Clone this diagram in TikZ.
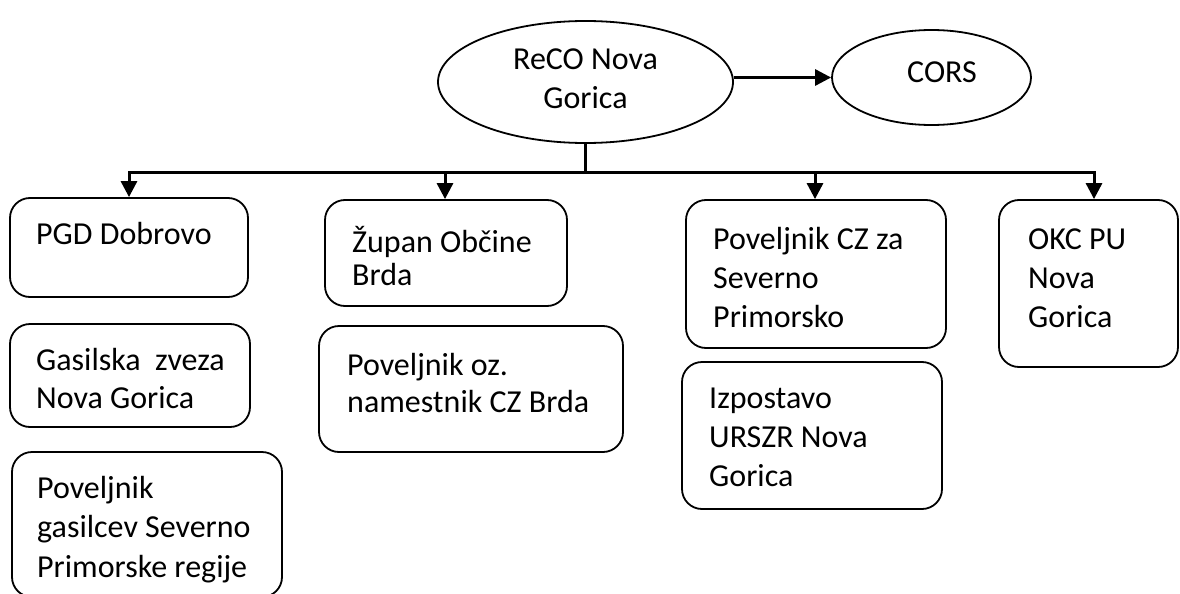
\documentclass[tikz,border=0pt]{standalone}
\usepackage{fontspec}
\setmainfont{Carlito}
\usetikzlibrary{arrows.meta,shapes.geometric}
\newcommand\vl[2]{\vtop{\fontsize{32}{#1}\selectfont\lineskiplimit=-100pt\lineskip=0pt #2}}
\newcommand\vc[2]{\vtop{\fontsize{32}{#1}\selectfont\lineskiplimit=-100pt\lineskip=0pt\halign{\hfil##\hfil\cr #2}}}
\tikzset{
  box/.style={draw, line width=1.8pt, rounded corners=20pt, inner sep=0pt},
  ell/.style={draw, ellipse, line width=1.8pt, inner sep=0pt},
  txt/.style={inner sep=0pt, font=\fontsize{32}{39}\selectfont},
  conn/.style={line width=3pt},
  arr/.style={line width=3pt, -{Triangle[length=16pt,width=16pt]}},
}
\begin{document}
\begin{tikzpicture}[x=1pt,y=-1pt]
\useasboundingbox (0,0) rectangle (1180,594);
% ellipses
\node[ell, minimum width=295pt, minimum height=122pt] (reco) at (585.5,82) {};
\node[ell, minimum width=199pt, minimum height=95pt] (cors) at (931.5,77.5) {};
\node[txt, anchor=base] (recot) at (585.5,70) {\vc{39}{ReCO Nova\cr Gorica\cr}};
\node[txt, anchor=base] (corst) at (942,82) {CORS};
% boxes
\node[box, minimum width=238pt, minimum height=99pt] (pgd) at (129,247.5) {};
\node[box, minimum width=240pt, minimum height=103pt] (gas) at (130,375.5) {};
\node[box, minimum width=270pt, minimum height=145pt] (povg) at (147,524.5) {};
\node[box, minimum width=242pt, minimum height=106pt] (zup) at (446,253) {};
\node[box, minimum width=304pt, minimum height=126pt] (povoz) at (471,389) {};
\node[box, minimum width=260pt, minimum height=148pt] (povcz) at (816,274) {};
\node[box, minimum width=260pt, minimum height=147pt] (izp) at (812,435.5) {};
\node[box, minimum width=179pt, minimum height=167pt] (okc) at (1088.5,283.5) {};
% texts
\node[txt, anchor=base west] (pgdt) at (36,244) {\vl{39}{\hbox{PGD Dobrovo}}};
\node[txt, anchor=base west] (gast) at (36,370) {\vl{38}{\hbox{Gasilska~ zveza}\hbox{Nova Gorica}}};
\node[txt, anchor=base west] (povgt) at (37,498) {\vl{39.5}{\hbox{Poveljnik}\hbox{gasilcev Severno}\hbox{Primorske regije}}};
\node[txt, anchor=base west] (zupt) at (352,252) {\vl{33}{\hbox{Župan Občine}\hbox{Brda}}};
\node[txt, anchor=base west] (povozt) at (347,375) {\vl{37}{\hbox{Poveljnik oz.}\hbox{namestnik CZ Brda}}};
\node[txt, anchor=base west] (povczt) at (713,249) {\vl{39}{\hbox{Poveljnik CZ za}\hbox{Severno}\hbox{Primorsko}}};
\node[txt, anchor=base west] (izpt) at (709,408) {\vl{39}{\hbox{Izpostavo}\hbox{URSZR Nova}\hbox{Gorica}}};
\node[txt, anchor=base west] (okct) at (1028,249) {\vl{39}{\hbox{OKC PU}\hbox{Nova}\hbox{Gorica}}};
% connectors
\coordinate (bl) at (129,172);
\coordinate (br) at (1094,172);
\coordinate (b2) at (445,172);
\coordinate (b3) at (815,172);
\draw[arr] (reco.east |- cors.west) -- (cors.west);
\draw[conn] (reco.south) -- (reco.south |- bl);
\draw[conn, line cap=rect] (bl) -- (br);
\draw[arr] (bl) -- (bl |- pgd.north);
\draw[arr] (b2) -- (b2 |- zup.north);
\draw[arr] (b3) -- (b3 |- povcz.north);
\draw[arr] (br) -- (br |- okc.north);
\end{tikzpicture}
\end{document}
